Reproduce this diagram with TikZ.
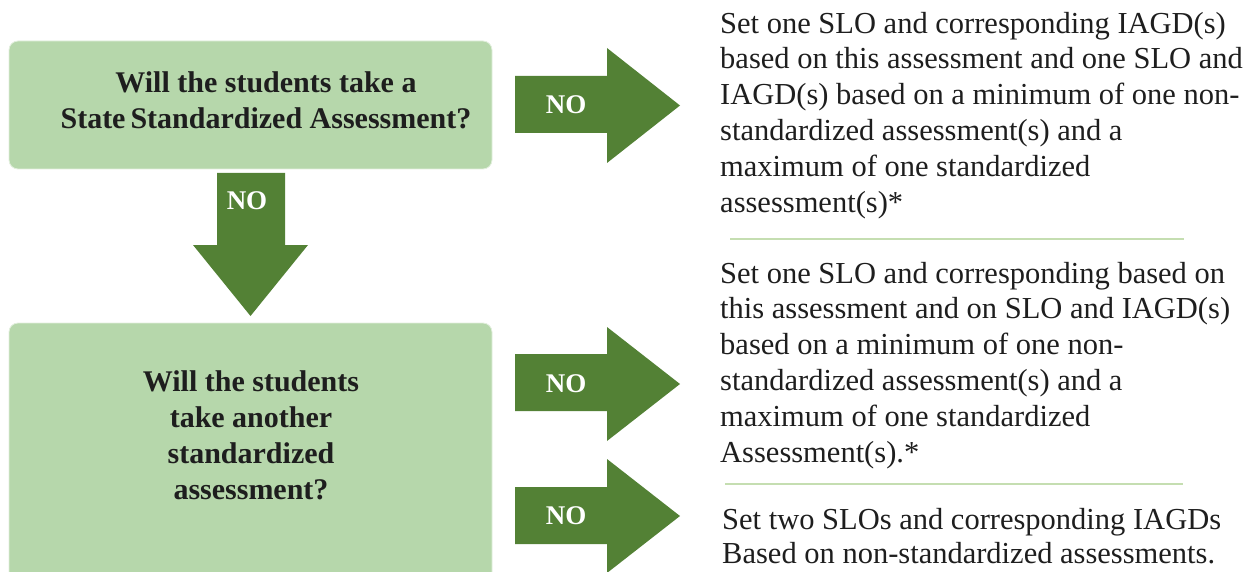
\documentclass[tikz,border=0pt]{standalone}
\usepackage{fontspec}
\setmainfont{Liberation Serif}
\definecolor{boxgreen}{HTML}{B6D7AB}
\definecolor{arrowgreen}{HTML}{538135}
\definecolor{sepgreen}{HTML}{C5DEB1}
\definecolor{txt}{HTML}{1E1E1E}
\tikzset{
  qbox/.style={draw=white!60!boxgreen, line width=0.8pt, fill=boxgreen, rounded corners=9pt, inner sep=0pt},
  qtext/.style={text=txt, align=center, inner sep=0pt, font=\fontsize{30}{36}\selectfont\bfseries},
  body/.style={text=txt, align=left, inner sep=0pt, anchor=base west, font=\fontsize{30.5}{35.8}\selectfont},
  nolabel/.style={text=white, inner sep=0pt, anchor=base, font=\fontsize{27}{30}\selectfont\bfseries},
  blockarrow/.style={fill=arrowgreen},
  sepline/.style={draw=sepgreen, line width=1.6pt}
}
\begin{document}
\begin{tikzpicture}[x=1pt,y=-1pt]
\useasboundingbox (0,0) rectangle (1252,572);
\clip (0,0) rectangle (1252,572);

% question boxes
\node[qbox, minimum width=483pt, minimum height=128pt] (q1) at (250.5,105) {};
\node[qbox, minimum width=483pt, minimum height=290pt] (q2) at (250.5,468) {};
% multi-line nodes: base anchor = baseline of last line
\node[qtext, anchor=base] (q1t) at (266,129) {Will the students take a\\State\,Standardized Assessment?};
\node[qtext, anchor=base] (q2t) at (251,499) {Will the students\\take another\\standardized\\assessment?};

% down arrow
\fill[blockarrow] (217,173) -- (285,173) -- (285,245) -- (308,245) -- (250.5,316) -- (193,245) -- (217,245) -- cycle;
\node[nolabel] (no0) at (247,210) {NO};

% right arrows
\fill[blockarrow] (515,76) -- (607,76) -- (607,48) -- (680,105.5) -- (607,163) -- (607,133) -- (515,133) -- cycle;
\node[nolabel] (no1) at (566,114) {NO};
\fill[blockarrow] (515,354) -- (607,354) -- (607,327) -- (680,384) -- (607,441) -- (607,411) -- (515,411) -- cycle;
\node[nolabel] (no2) at (566,392) {NO};
\fill[blockarrow] (515,487) -- (607,487) -- (607,459) -- (680,516) -- (607,573) -- (607,544) -- (515,544) -- cycle;
\node[nolabel] (no3) at (566,524) {NO};

% outcome texts
\node[body] (t1) at (720,212) {Set one SLO and corresponding IAGD(s)\\based on this assessment and one SLO and\\IAGD(s) based on a minimum of one non-\\standardized assessment(s) and a\\maximum of one standardized\\assessment(s)*};
\node[body] (t2) at (720,462) {Set one SLO and corresponding based on\\this assessment and on SLO and IAGD(s)\\based on a minimum of one non-\\standardized assessment(s) and a\\maximum of one standardized\\Assessment(s).*};
\node[body, font=\fontsize{30.5}{34}\selectfont] (t3) at (722,563) {Set two SLOs and corresponding IAGDs\\Based on non-standardized assessments.};

% separators
\coordinate (s1a) at (730,239); \coordinate (s1b) at (1184,239);
\coordinate (s2a) at (725,484); \coordinate (s2b) at (1183,484);
\draw[sepline] (s1a) -- (s1b);
\draw[sepline] (s2a) -- (s2b);
\end{tikzpicture}
\end{document}
